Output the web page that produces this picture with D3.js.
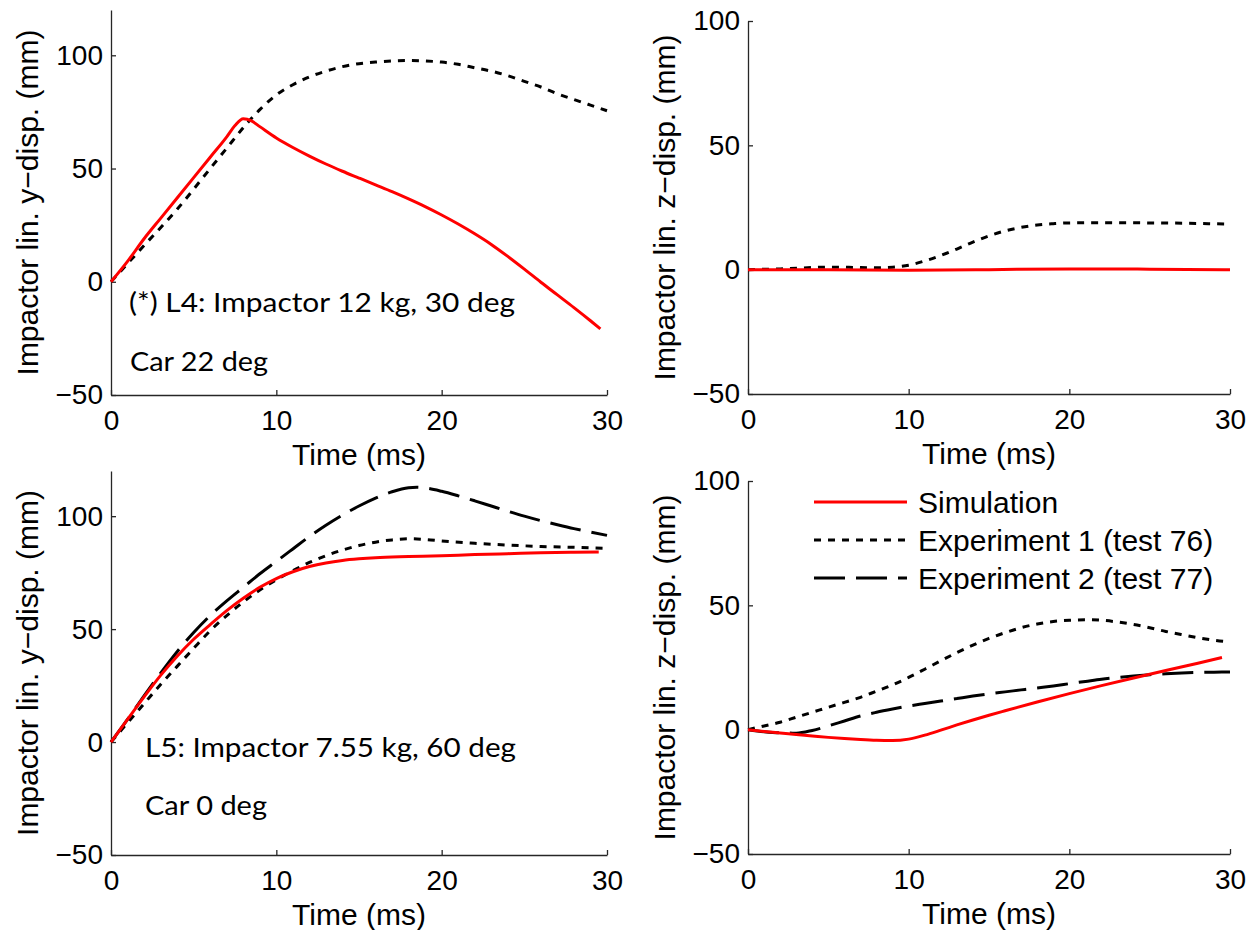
<!DOCTYPE html>
<html>
<head>
<meta charset="utf-8">
<script src="https://cdn.jsdelivr.net/npm/d3@7"></script>
<style>
body { margin: 0; background: #fff; }
.axis path, .axis line { stroke: #262626; stroke-width: 1.3; }
.axis text { font-family: "Liberation Sans", Arial, sans-serif; font-size: 28px; fill: #000; }
.label { font-family: "Liberation Sans", Arial, sans-serif; font-size: 30px; fill: #000; }
.note { font-family: Lato, sans-serif; font-size: 26.5px; fill: #000; }
.line { fill: none; stroke-width: 3; }
</style>
</head>
<body>
<script>
var xTicks = [0, 10, 20, 30];
var yTicks = [-50, 0, 50, 100];

// L4, y displacement
var l4ySim = [[0,0],[1,9],[2,19],[3,28],[4,37],[5,46],[6,55],[7,64],[7.5,69],[8,72],[8.5,71],[9,68.5],[10,63.5],[11,59.3],
  [12,55.5],[13,52],[14,48.8],[15,45.8],[16,42.8],[17,39.8],[18,36.6],[19,33.2],[20,29.5],[21,25.5],[22,21.2],[23,16.5],
  [24,11.2],[25,5.6],[26,-0.2],[27,-5.8],[28,-11.4],[29,-17.2],[29.6,-20.8]];
var l4yExp1 = [[0,0],[2,16],[4,32],[6,50],[7,59],[8,68],[9,76],[10,82.5],[11,87],[12,90.5],[13,93],[14,95],[15,96.3],[16,97],
  [17,97.5],[18,97.7],[19,97.5],[20,97],[21,96],[22,94.5],[23,93],[24,91],[25,88.5],[26,86],[27,83],[28,80.5],[29,78],[30,75.5]];

// L4, z displacement
var l4zSim = [[0,0],[5,0],[10,-0.2],[15,0],[20,0.3],[25,0.2],[30,0]];
var l4zExp1 = [[0,0],[2,0.3],[5,1],[8,0.8],[9,1],[10,1.8],[11,3.5],[12,5.7],[13,8.3],[14,11.1],[15,13.6],[16,15.6],[17,17],
  [18,18],[19,18.5],[20,18.8],[22,18.9],[25,18.8],[28,18.6],[30,18.3]];

// L5, y displacement
var l5ySim = [[0,0],[1,10],[2,20],[3,29.5],[4,38],[5,45.5],[6,52],[7,58.2],[8,63.7],[9,68.5],[10,72.4],[11,75.4],[12,77.7],
  [13,79.3],[14,80.4],[15,81.1],[16,81.6],[18,82.1],[20,82.5],[22,83],[24,83.4],[26,83.8],[28,84],[29.5,84.1]];
var l5yExp1 = [[0,0],[1,8.5],[2,17],[3,25.5],[4,33.5],[5,41.5],[6,49.3],[7,56],[8,62],[9,67.3],[10,71.8],[11,75.9],[12,79.5],
  [13,82.5],[14,85],[15,87],[16,88.5],[17,89.5],[18,90],[19,89.7],[20,89],[22,88],[24,87.2],[26,86.6],[28,86.2],[30,85.8]];
var l5yExp2 = [[0,0],[1,10],[2,20.5],[3,30.5],[4,40],[5,48.5],[6,56],[7,62.5],[8,68.5],[9,74.5],[10,80],[11,85.5],[12,91],
  [13,96],[14,100.5],[15,104.5],[16,108],[17,110.8],[18,112.6],[18.5,112.8],[19,112.5],[20,111],[21,109],[22,106.8],
  [23,104.5],[24,102.2],[25,100],[26,98],[27,96.2],[28,94.5],[29,93],[30,91.5]];

// L5, z displacement
var l5zSim = [[0,0],[1,-0.7],[2,-1.3],[3,-1.9],[4,-2.5],[5,-3.1],[6,-3.6],[7,-4],[8,-4.3],[9,-4.4],[10,-3.8],[11,-2.2],
  [12,-0.2],[13,1.9],[14,3.9],[15,5.8],[16,7.6],[18,11.1],[20,14.5],[22,17.7],[24,20.8],[26,23.8],[28,26.7],[29.5,29]];
var l5zExp1 = [[0,0],[1,1.5],[2,3],[3,5],[4,7],[5,9],[6,11],[7,13],[8,15.5],[9,18],[10,21],[11,24.3],[12,27.7],[13,31],
  [14,34],[15,36.7],[16,39],[17,41],[18,42.5],[19,43.5],[20,44],[21,44.2],[22,44],[23,43.3],[24,42.3],[25,41],[26,39.5],
  [27,38.2],[28,37],[29,36],[30,35.3]];
var l5zExp2 = [[0,0],[1,-0.8],[2,-1.3],[3,-1.4],[4,-0.3],[5,1.5],[6,3.5],[7,5.5],[8,7],[9,8.3],[10,9.5],[11,10.5],[12,11.5],
  [13,12.5],[14,13.5],[15,14.4],[16,15.2],[17,16],[18,16.8],[19,17.6],[20,18.5],[21,19.4],[22,20.3],[23,21],[24,21.6],
  [25,22.1],[26,22.5],[27,22.8],[28,23],[29,23.1],[30,23.2]];

var legendNames = ["Simulation", "Experiment 1 (test 76)", "Experiment 2 (test 77)"];

var styles = {
  sim:  {color: "#ff0000", dash: null},
  exp1: {color: "#000", dash: "7,7"},
  exp2: {color: "#000", dash: "31,11"}
};

var panels = [
  {left: 111, right: 607, top: 10, bottom: 395, yMax: 120, yLabel: "Impactor lin. y\u2212disp. (mm)",
   series: [["exp1", l4yExp1], ["sim", l4ySim]],
   notes: [["(*) L4: Impactor 12 kg, 30 deg", 129, 312, 386], ["Car 22 deg", 130, 371, 138]]},
  {left: 748, right: 1230, top: 21, bottom: 394, yMax: 100, yLabel: "Impactor lin. z\u2212disp. (mm)",
   series: [["exp1", l4zExp1], ["sim", l4zSim]], notes: []},
  {left: 111, right: 607, top: 471, bottom: 855, yMax: 120, yLabel: "Impactor lin. y\u2212disp. (mm)",
   series: [["exp2", l5yExp2], ["exp1", l5yExp1], ["sim", l5ySim]],
   notes: [["L5: Impactor 7.55 kg, 60 deg", 145, 757, 371], ["Car 0 deg", 145, 815, 122]]},
  {left: 748, right: 1230, top: 481, bottom: 854, yMax: 100, yLabel: "Impactor lin. z\u2212disp. (mm)",
   series: [["exp2", l5zExp2], ["exp1", l5zExp1], ["sim", l5zSim]], notes: [], legend: true}
];

var svg = d3.select("body").append("svg")
    .attr("width", 1255)
    .attr("height", 930);

svg.append("rect").attr("width", 1255).attr("height", 930).attr("fill", "#fff");

panels.forEach(function(p) {
  var x = d3.scaleLinear().domain([0, 30]).range([p.left, p.right]);
  var y = d3.scaleLinear().domain([-50, p.yMax]).range([p.bottom, p.top]);

  var line = d3.line()
      .curve(d3.curveMonotoneX)
      .x(function(d) { return x(d[0]); })
      .y(function(d) { return y(d[1]); });

  svg.append("g")
      .attr("class", "x axis")
      .attr("transform", "translate(0," + p.bottom + ")")
      .call(d3.axisBottom(x).tickValues(xTicks).tickSizeInner(-5).tickSizeOuter(0).tickPadding(15));

  svg.append("g")
      .attr("class", "y axis")
      .attr("transform", "translate(" + p.left + ",0)")
      .call(d3.axisLeft(y).tickValues(yTicks).tickSizeInner(-5).tickSizeOuter(0).tickPadding(8));

  p.series.forEach(function(s) {
    var st = styles[s[0]];
    svg.append("path")
        .datum(s[1])
        .attr("class", "line")
        .attr("stroke", st.color)
        .attr("stroke-dasharray", st.dash)
        .attr("d", line);
  });

  svg.append("text")
      .attr("class", "label")
      .attr("x", (p.left + p.right) / 2)
      .attr("y", p.bottom + 70)
      .style("text-anchor", "middle")
      .text("Time (ms)");

  svg.append("text")
      .attr("class", "label")
      .attr("transform", "translate(" + (p.left - 84) + "," + ((p.top + p.bottom) / 2) + ") rotate(-90)")
      .attr("dy", "0.35em")
      .style("text-anchor", "middle")
      .text(p.yLabel);

  // annotations were typed in another font, stretched to the original width
  p.notes.forEach(function(n) {
    svg.append("text")
        .attr("class", "note")
        .attr("x", n[1])
        .attr("y", n[2])
        .attr("textLength", n[3])
        .attr("lengthAdjust", "spacingAndGlyphs")
        .text(n[0]);
  });

  if (p.legend) {
    var keys = ["sim", "exp1", "exp2"];
    keys.forEach(function(k, i) {
      var ly = 502 + i * 38;
      svg.append("line")
          .attr("x1", 814).attr("x2", 907)
          .attr("y1", ly).attr("y2", ly)
          .attr("stroke", styles[k].color)
          .attr("stroke-width", 3)
          .attr("stroke-dasharray", styles[k].dash);
      svg.append("text")
          .attr("class", "label")
          .attr("x", 918)
          .attr("y", ly)
          .attr("dy", "0.35em")
          .text(legendNames[i]);
    });
  }
});
</script>
</body>
</html>
